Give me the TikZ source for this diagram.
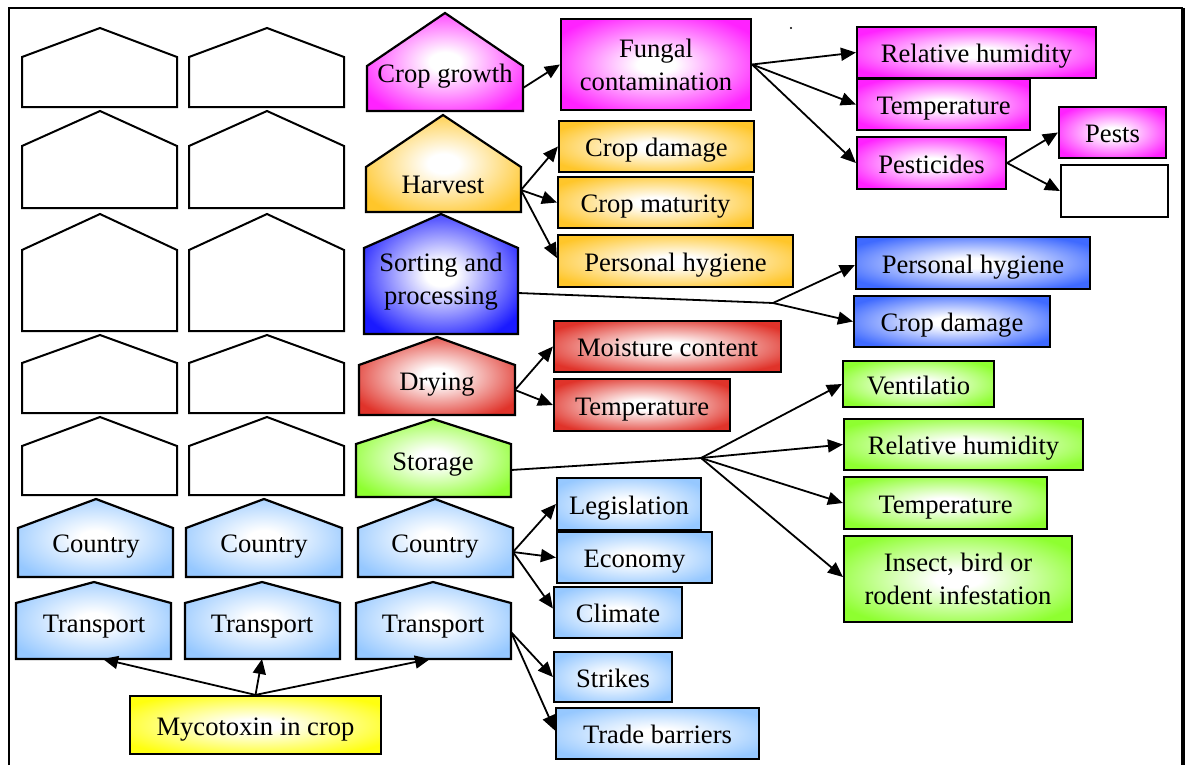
\documentclass[tikz,border=0pt]{standalone}
\usepackage{fontspec}
\setmainfont{Liberation Serif}
\usetikzlibrary{arrows.meta}
\colorlet{shc}{white}
\pgfdeclareradialshading[shc]{boxshade}{\pgfpoint{0bp}{0bp}}{color(0bp)=(white); color(5bp)=(white); color(30bp)=(shc); color(50bp)=(shc)}
\definecolor{magC}{HTML}{FF22FF}
\definecolor{goldC}{HTML}{FFC62A}
\definecolor{blueS}{HTML}{1A1AFF}
\definecolor{blueB}{HTML}{3F6AFF}
\definecolor{redC}{HTML}{E0332A}
\definecolor{greenC}{HTML}{8EFF30}
\definecolor{lbC}{HTML}{96C8FF}
\definecolor{yelC}{HTML}{FFFF10}
\newcommand\dfont{\fontsize{13.3}{16.5}\selectfont}
\tikzset{
  shd/.style={/utils/exec={\colorlet{shc}{#1}}, shade, shading=boxshade, draw=black, line width=1.1pt},
  hwhite/.style={draw=black, fill=white, line width=1pt},
  box/.style={rectangle, inner sep=0pt, align=center, font=\dfont},
  one/.style={text height=11pt, text depth=0.8pt},
  sz/.style 2 args={minimum width=#1*0.5pt, minimum height=#2*0.5pt},
  lbl/.style={inner sep=0pt, align=center, font=\dfont},
  arr/.style={-{Triangle[length=7.5pt,width=6.5pt]}, line width=0.9pt},
  ln/.style={line width=0.9pt},
}
\begin{document}
\begin{tikzpicture}[x=0.5pt,y=-0.5pt]
\useasboundingbox (0,0) rectangle (1186,765);
% frame
\draw[line width=1pt] (8.5,765) -- (8.5,8.5) -- (1183,8.5);
\draw[line width=1.6pt] (1183,8) -- (1183,765);
\fill (791,28) circle (1.2);

% empty houses
\foreach \a/\s/\b in {28/57/107, 111/146/208, 214/250/331, 335/363/413, 417/446/495}{
  \path[hwhite] (22,\b) -- (22,\s) -- (100,\a) -- (177,\s) -- (177,\b) -- cycle;
  \path[hwhite] (189,\b) -- (189,\s) -- (267,\a) -- (344,\s) -- (344,\b) -- cycle;
}

% coloured houses
\path[shd=magC]  (367,111) -- (367,66) -- (445,13) -- (523,66) -- (523,111) -- cycle;
\path[shd=goldC] (366,212) -- (366,167) -- (443,115) -- (521,167) -- (521,212) -- cycle;
\path[shd=blueS] (364,334) -- (364,248) -- (441,214) -- (518,248) -- (518,334) -- cycle;
\path[shd=redC]  (359,415) -- (359,365) -- (437,337) -- (515,365) -- (515,415) -- cycle;
\path[shd=greenC] (356,497) -- (356,444) -- (433,419) -- (511,444) -- (511,497) -- cycle;
\path[shd=lbC] (18,577) -- (18,528) -- (96,499) -- (173,528) -- (173,577) -- cycle;
\path[shd=lbC] (186,577) -- (186,528) -- (264,499) -- (342,528) -- (342,577) -- cycle;
\path[shd=lbC] (358,577) -- (358,528) -- (435,499) -- (513,528) -- (513,577) -- cycle;
\path[shd=lbC] (16,659) -- (16,603) -- (94,582) -- (171,603) -- (171,659) -- cycle;
\path[shd=lbC] (185,659) -- (185,603) -- (262,582) -- (340,603) -- (340,659) -- cycle;
\path[shd=lbC] (356,659) -- (356,603) -- (433,582) -- (511,603) -- (511,659) -- cycle;

% house labels
\node[lbl, anchor=base] (cg) at (445,83) {Crop growth};
\node[lbl, anchor=base] (hv) at (443,193) {Harvest};
\node[lbl] (sp) at (441,282) {Sorting and\\processing};
\node[lbl, anchor=base] (dr) at (437,390) {Drying};
\node[lbl, anchor=base] (st) at (433,470) {Storage};
\node[lbl, anchor=base] (c1) at (96,552) {Country};
\node[lbl, anchor=base] (c2) at (264,552) {Country};
\node[lbl, anchor=base] (c3) at (435,552) {Country};
\node[lbl, anchor=base] (t1) at (94,632) {Transport};
\node[lbl, anchor=base] (t2) at (262,632) {Transport};
\node[lbl, anchor=base] (t3) at (433,632) {Transport};

% connector ends on houses
\coordinate (cg-e) at (523,88);
\coordinate (hv-e) at (521,190);
\coordinate (sp-e) at (518,293);
\coordinate (dr-e) at (515,390);
\coordinate (st-e) at (511,470);
\coordinate (c3-e) at (513,552);
\coordinate (t3-e) at (511,632);
\coordinate (t1-s) at (103,659);
\coordinate (t2-s) at (262,659);
\coordinate (t3-s) at (430,659);
\coordinate (hub1) at (773,303);
\coordinate (hub2) at (701,458);

% boxes
\node[box, shd=magC, sz={190}{91}] (fung) at (656,64.5) {Fungal\\contamination};
\node[box, one, shd=magC, sz={239}{51}] (rh1) at (976.5,52.5) {Relative humidity};
\node[box, one, shd=magC, sz={173}{51}] (temp1) at (943.5,104.5) {Temperature};
\node[box, one, shd=magC, sz={149}{52}] (pest) at (931.5,163) {Pesticides};
\node[box, one, shd=magC, sz={107}{51}] (pests) at (1112.5,132.5) {Pests};
\node[box, draw=black, fill=white, line width=1.1pt, sz={107}{52}] (empty) at (1114.5,191) {};
\node[box, one, shd=goldC, sz={195}{51}] (cd1) at (656.5,146.5) {Crop damage};
\node[box, one, shd=goldC, sz={195}{51}] (cm) at (655.5,202.5) {Crop maturity};
\node[box, one, shd=goldC, sz={235}{52}] (ph1) at (675.5,261) {Personal hygiene};
\node[box, one, shd=blueB, sz={234}{52}] (ph2) at (973,263) {Personal hygiene};
\node[box, one, shd=blueB, sz={196}{51}] (cd2) at (952,321.5) {Crop damage};
\node[box, one, shd=redC, sz={227}{51}] (mc) at (667.5,346.5) {Moisture content};
\node[box, one, shd=redC, sz={176}{52}] (temp2) at (642,405) {Temperature};
\node[box, one, shd=greenC, sz={151}{46}] (vent) at (918.5,384) {Ventilatio};
\node[box, one, shd=greenC, sz={239}{51}] (rh3) at (963.5,444.5) {Relative humidity};
\node[box, one, shd=greenC, sz={203}{52}] (temp3) at (945.5,503) {Temperature};
\node[box, shd=greenC, sz={228}{86}] (ins) at (958,579) {Insect, bird or\\rodent infestation};
\node[box, one, shd=lbC, sz={144}{52}] (leg) at (629,504) {Legislation};
\node[box, one, shd=lbC, sz={155}{51}] (eco) at (634.5,557.5) {Economy};
\node[box, one, shd=lbC, sz={128}{51}] (cli) at (618,612.5) {Climate};
\node[box, one, shd=lbC, sz={118}{50}] (str) at (613,677) {Strikes};
\node[box, one, shd=lbC, sz={203}{51}] (tb) at (657.5,733.5) {Trade barriers};
\node[box, one, shd=yelC, sz={251}{58}] (myc) at (255.5,725) {Mycotoxin in crop};

% connectors
\draw[arr] (cg-e) -- (fung.west);
\draw[arr] (fung.east) -- (rh1.west);
\draw[arr] (fung.east) -- (temp1.west);
\draw[arr] (fung.east) -- (pest.west);
\draw[arr] (pest.east) -- (pests.west);
\draw[arr] (pest.east) -- (empty.west);
\draw[arr] (hv-e) -- (cd1.west);
\draw[arr] (hv-e) -- (cm.west);
\draw[arr] (hv-e) -- ([yshift=1.5pt]ph1.west);
\draw[ln] (sp-e) -- (hub1);
\draw[arr] (hub1) -- ([yshift=-1pt]ph2.west);
\draw[arr] (hub1) -- (cd2.west);
\draw[arr] (dr-e) -- (mc.west);
\draw[arr] (dr-e) -- (temp2.west);
\draw[ln] (st-e) -- (hub2);
\draw[arr] (hub2) -- (vent.west);
\draw[arr] (hub2) -- (rh3.west);
\draw[arr] (hub2) -- (temp3.west);
\draw[arr] (hub2) -- ([yshift=1pt]ins.west);
\draw[arr] (c3-e) -- (leg.west);
\draw[arr] (c3-e) -- (eco.west);
\draw[arr] (c3-e) -- ([yshift=2pt]cli.west);
\draw[arr] (t3-e) -- (str.west);
\draw[arr] (t3-e) -- ([yshift=1.5pt]tb.west);
\draw[arr] (myc.north) -- (t1-s);
\draw[arr] (myc.north) -- (t2-s);
\draw[arr] (myc.north) -- (t3-s);
\end{tikzpicture}
\end{document}
